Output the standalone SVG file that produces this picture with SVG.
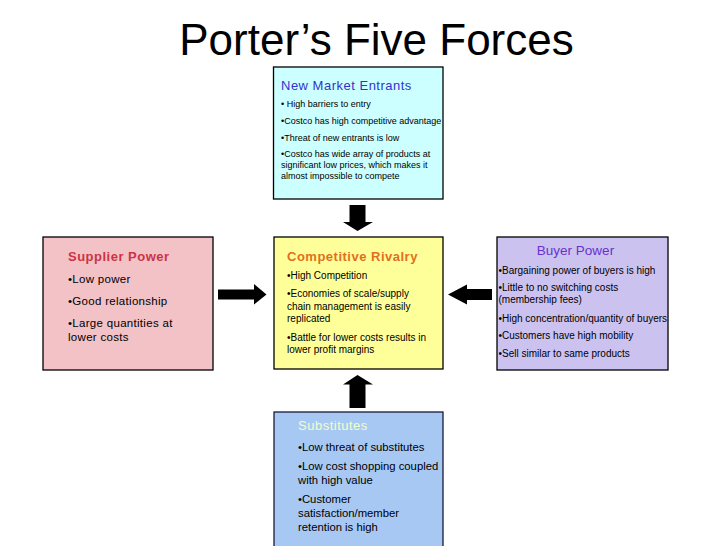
<svg xmlns="http://www.w3.org/2000/svg" width="728" height="546" viewBox="0 0 728 546">
<style>
text{font-family:"Liberation Sans",Arial,sans-serif;fill:#000}
.box{stroke:#000;stroke-width:1.3}
.b9{font-size:9px}
.b10{font-size:10px}
.b11{font-size:11.3px}
.arrow{fill:#000}
</style>
<rect width="728" height="546" fill="#fff"/>
<text x="376.5" y="55" font-size="44" text-anchor="middle">Porter’s Five Forces</text>

<g id="new-entrants">
<rect class="box" x="273.5" y="67" width="169.5" height="132" fill="#ccffff"/>
<text x="281" y="90" font-size="13" letter-spacing="0.5" style="fill:#3333cc">New Market Entrants</text>
<text class="b9" x="281" y="107">• High barriers to entry</text>
<text class="b9" x="281" y="124">•Costco has high competitive advantage</text>
<text class="b9" x="281" y="141">•Threat of new entrants is low</text>
<text class="b9" x="281" y="157">•Costco has wide array of products at</text>
<text class="b9" x="281" y="168">significant low prices, which makes it</text>
<text class="b9" x="281" y="179">almost impossible to compete</text>
</g>

<g id="supplier-power">
<rect class="box" x="43" y="237" width="170" height="133" fill="#f2c2c6"/>
<text x="68" y="261" font-size="13" font-weight="bold" letter-spacing="0.5" style="fill:#cc3344">Supplier Power</text>
<text x="68" y="283" font-size="11.5" letter-spacing="0.3">•Low power</text>
<text x="68" y="305" font-size="11.5" letter-spacing="0.3">•Good relationship</text>
<text x="68" y="327" font-size="11.5" letter-spacing="0.3">•Large quantities at</text>
<text x="68" y="341" font-size="11.5" letter-spacing="0.3">lower costs</text>
</g>

<g id="competitive-rivalry">
<rect class="box" x="274" y="237" width="169" height="132" fill="#ffff99"/>
<text x="287" y="261" font-size="13" font-weight="bold" letter-spacing="0.5" style="fill:#e07020">Competitive Rivalry</text>
<text class="b10" x="287" y="279">•High Competition</text>
<text class="b10" x="287" y="297">•Economies of scale/supply</text>
<text class="b10" x="287" y="309.5">chain management is easily</text>
<text class="b10" x="287" y="322">replicated</text>
<text class="b10" x="287" y="341">•Battle for lower costs results in</text>
<text class="b10" x="287" y="353">lower profit margins</text>
</g>

<g id="buyer-power">
<rect class="box" x="497" y="237" width="171" height="133" fill="#ccc2f0"/>
<text x="575.5" y="254.5" font-size="13.5" text-anchor="middle" style="fill:#6633cc">Buyer Power</text>
<text class="b10" x="498.5" y="273.5">•Bargaining power of buyers is high</text>
<text class="b10" x="498.5" y="291">•Little to no switching costs</text>
<text class="b10" x="498.5" y="303">(membership fees)</text>
<text class="b10" x="498.5" y="322">•High concentration/quantity of buyers</text>
<text class="b10" x="498.5" y="339">•Customers have high mobility</text>
<text class="b10" x="498.5" y="357">•Sell similar to same products</text>
</g>

<g id="substitutes">
<rect x="274" y="412" width="169" height="150" fill="#a8c8f4" stroke="#1a1a3a" stroke-width="1.3"/>
<text x="298" y="430" font-size="13" letter-spacing="0.5" style="fill:#eeffcc">Substitutes</text>
<text class="b11" x="298" y="451">•Low threat of substitutes</text>
<text class="b11" x="298" y="470">•Low cost shopping coupled</text>
<text class="b11" x="298" y="484">with high value</text>
<text class="b11" x="298" y="503">•Customer</text>
<text class="b11" x="298" y="517">satisfaction/member</text>
<text class="b11" x="298" y="531">retention is high</text>
</g>

<g id="connectors">
<polygon class="arrow" points="349.5,205 365.5,205 365.5,222 373,222 357.5,231 343,222 349.5,222"/>
<polygon class="arrow" points="357.5,375 373,384.5 365.5,384.5 365.5,408 349.5,408 349.5,384.5 343,384.5"/>
<polygon class="arrow" points="218,289.5 254,289.5 254,284 266.5,294.5 254,304.5 254,299.5 218,299.5"/>
<polygon class="arrow" points="448,294.5 467,284.5 467,289 492,289 492,300 467,300 467,304.5"/>
</g>
</svg>
